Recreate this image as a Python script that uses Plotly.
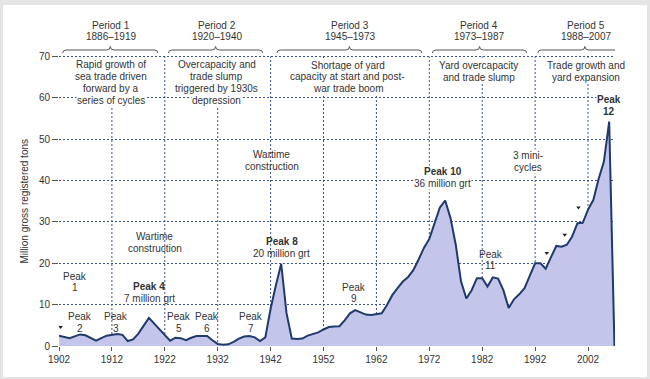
import plotly.graph_objects as go

# ---------------- data ----------------
years = [1902, 1904, 1906, 1907, 1909, 1911, 1913, 1914, 1915, 1916, 1917, 1918, 1919,
         1920, 1921, 1922, 1923, 1924, 1925, 1926, 1927, 1928, 1929, 1930, 1931, 1932,
         1933, 1934, 1935, 1936, 1937, 1938, 1939, 1940, 1941, 1942, 1943, 1944, 1945,
         1946, 1947, 1948, 1949, 1950, 1951, 1952, 1953, 1954, 1955, 1956, 1957, 1958,
         1959, 1960, 1961, 1962, 1963, 1964, 1965, 1966, 1967, 1968, 1969, 1970, 1971,
         1972, 1973, 1974, 1975, 1976, 1977, 1978, 1979, 1980, 1981, 1982, 1983, 1984,
         1985, 1986, 1987, 1988, 1989, 1990, 1991, 1992, 1993, 1994, 1995, 1996, 1997,
         1998, 1999, 2000, 2001, 2002, 2003, 2004, 2005, 2006, 2007]
tonnage = [2.5, 1.9, 2.8, 2.6, 1.3, 2.5, 2.9, 2.7, 1.2, 1.6, 3.0, 4.9, 6.8,
           5.4, 4.0, 2.6, 1.3, 2.0, 1.9, 1.4, 2.0, 2.4, 2.4, 2.4, 1.4, 0.5,
           0.3, 0.4, 1.0, 1.8, 2.3, 2.4, 2.1, 1.2, 2.1, 9.0, 14.7, 19.9, 8.0,
           1.8, 1.7, 1.8, 2.5, 2.9, 3.3, 4.0, 4.6, 4.7, 4.8, 6.2, 7.9, 8.7,
           8.2, 7.6, 7.5, 7.7, 7.9, 9.9, 12.3, 14.0, 15.6, 16.7, 18.4, 21.0, 23.8,
           25.9, 29.5, 33.5, 35.2, 31.0, 24.5, 15.6, 11.5, 13.5, 16.4, 16.4, 14.4, 16.6,
           16.3, 13.5, 9.2, 11.3, 12.5, 14.0, 17.0, 20.0, 20.0, 18.7, 21.5, 24.2, 24.0,
           24.5, 26.5, 29.7, 29.8, 33.0, 35.3, 40.4, 44.6, 54.3, 0.0]

# small arrowhead marks
arrow_years = [1902.3, 1994.2, 1997.6, 2000.2]
arrow_vals = [4.6, 22.5, 26.9, 33.5]

x_tick_years = [1902, 1912, 1922, 1932, 1942, 1952, 1962, 1972, 1982, 1992, 2002]
y_ticks = [0, 10, 20, 30, 40, 50, 60, 70]

period_titles = ["Period 1<br>1886–1919", "Period 2<br>1920–1940", "Period 3<br>1945–1973",
                 "Period 4<br>1973–1987", "Period 5<br>1988–2007"]
period_centers = [1911.8, 1931.8, 1957.0, 1981.3, 2001.6]
brace_start = [1902.7, 1922.7, 1943.2, 1972.6, 1992.5]
brace_end = [1920.7, 1940.5, 1970.6, 1990.4, 2010.3]
period_desc = ["Rapid growth of<br>sea trade driven<br>forward by a<br>series of cycles",
               "Overcapacity and<br>trade slump<br>triggered by 1930s<br>depression",
               "Shortage of yard<br>capacity at start and post-<br>war trade boom",
               "Yard overcapacity<br>and trade slump",
               "Trade growth and<br>yard expansion"]
desc_x = [1911.8, 1931.8, 1956.6, 1981.3, 2001.6]
desc_y = [63.7, 63.7, 65.1, 66.5, 66.5]

notes = [
    ("Wartime<br>construction", 1942.2, 44.8, False),
    ("Wartime<br>construction", 1920.1, 25.1, False),
    ("<b>Peak 8</b><br>20 million grt", 1944.1, 23.8, False),
    ("<b>Peak 4</b><br>7 million grt", 1919.05, 13.0, False),
    ("Peak<br>1", 1905.0, 15.5, False),
    ("Peak<br>2", 1905.9, 5.7, False),
    ("Peak<br>3", 1912.7, 5.7, False),
    ("Peak<br>5", 1924.6, 5.7, False),
    ("Peak<br>6", 1929.9, 5.7, False),
    ("Peak<br>7", 1938.2, 5.7, False),
    ("Peak<br>9", 1957.7, 12.8, False),
    ("Peak<br>11", 1983.6, 20.8, False),
    ("<b>Peak 10</b><br>36 million grt", 1974.5, 40.7, True),
    ("3 mini-<br>cycles", 1990.7, 44.6, True),
    ("<b>Peak</b><br><b>12</b>", 2005.9, 58.1, True),
]

FONT = "Liberation Sans, Arial, sans-serif"
TXT = "#333333"
GRID = "#3b5588"
FS = 10
LS = 11.8  # line spacing in px

fig = go.Figure()
fig.add_trace(go.Scatter(
    x=years, y=tonnage, mode="lines", fill="tozeroy",
    fillcolor="#c3c5ea", line=dict(color="#1f3a6b", width=2),
    hoverinfo="skip", showlegend=False))
fig.add_trace(go.Scatter(
    x=arrow_years, y=arrow_vals, mode="markers",
    marker=dict(symbol="triangle-down", size=4, color="#222222"),
    hoverinfo="skip", showlegend=False))

shapes = [dict(type="rect", xref="paper", yref="paper", x0=-0.1007, x1=1.0576,
               y0=-0.1065, y1=1.1718, fillcolor="white", line=dict(width=0), layer="below")]

for yr in x_tick_years[1:]:
    shapes.append(dict(type="line", xref="x", yref="paper", x0=yr, x1=yr, y0=0, y1=0.9945,
                       line=dict(color=GRID, width=1, dash="2px,2px"), layer="below"))

yb, ym, yt = 1.0069, 1.0172, 1.0292
for xs, xe in zip(brace_start, brace_end):
    xc = (xs + xe) / 2
    r = 0.7
    path = (f"M {xs},{yb} Q {xs},{ym} {xs + r},{ym} L {xc - r},{ym} Q {xc},{ym} {xc},{yt} "
            f"Q {xc},{ym} {xc + r},{ym} L {xe - r},{ym} Q {xe},{ym} {xe},{yb}")
    shapes.append(dict(type="path", xref="x", yref="paper", path=path,
                       line=dict(color="#555555", width=1)))

annotations = []


def add_text(text, x, y, xref, yref, bg=False):
    lines = text.split("<br>")
    n = len(lines)
    for i, ln in enumerate(lines):
        a = dict(text=ln, x=x, y=y, xref=xref, yref=yref, showarrow=False,
                 xanchor="center", yanchor="middle",
                 yshift=((n - 1) / 2 - i) * LS,
                 font=dict(size=FS, color=TXT, family=FONT))
        if bg:
            a["bgcolor"] = "white"
            a["borderpad"] = 0
        annotations.append(a)


for t, xc in zip(period_titles, period_centers):
    add_text(t, xc, 1.0825, "x", "paper")
for t, xc, yc in zip(period_desc, desc_x, desc_y):
    add_text(t, xc, yc, "x", "y", bg=True)
for t, xc, yc, bg in notes:
    add_text(t, xc, yc, "x", "y", bg=bg)

annotations.append(dict(text="Million gross registered tons", x=-0.0612, y=0.5,
                        xref="paper", yref="paper", showarrow=False, textangle=-90,
                        xanchor="center", yanchor="middle",
                        font=dict(size=FS, color=TXT, family=FONT)))

fig.update_layout(
    width=650, height=379,
    margin=dict(l=59, r=35, t=55, b=33),
    paper_bgcolor="#e4e4e4", plot_bgcolor="rgba(0,0,0,0)",
    font=dict(family=FONT, size=FS, color=TXT),
    shapes=shapes, annotations=annotations,
    hovermode=False,
    xaxis=dict(range=[1902, 2007.1], tickmode="array", tickvals=x_tick_years,
               ticks="outside", ticklen=4, tickcolor="#555555", showgrid=False,
               zeroline=False, showline=False, tickfont=dict(size=FS, color=TXT)),
    yaxis=dict(range=[0, 70.4], tickmode="array", tickvals=y_ticks,
               ticks="outside", ticklen=6, tickcolor="#555555",
               showgrid=True, gridcolor=GRID, griddash="2px,2px", gridwidth=1,
               zeroline=False, showline=False, tickfont=dict(size=FS, color=TXT)),
)

fig.write_html("out.html", config={"displayModeBar": False, "staticPlot": True},
               post_script="document.body.style.margin='0';")
